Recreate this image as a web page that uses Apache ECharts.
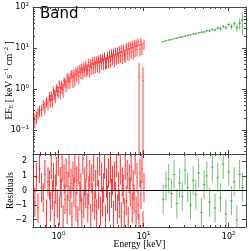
<!DOCTYPE html>
<html><head><meta charset="utf-8">
<script src="https://cdn.jsdelivr.net/npm/echarts@6/dist/echarts.min.js"></script>
<style>html,body{margin:0;padding:0;background:#fff}#c{width:249px;height:251px}</style>
</head><body><div id="c"></div>
<script>
// ---- data ----
const redE = [0.505,0.525,0.548,0.572,0.596,0.632,0.66,0.69,0.72,0.75,
0.78,0.80,0.82,0.845,0.87,0.89,0.915,0.94,0.965,0.99,
1.02,1.045,1.075,1.10,1.13,1.16,1.19,1.225,1.26,1.29,
1.325,1.36,1.40,1.435,1.475,1.515,1.555,1.60,1.64,1.685,
1.73,1.78,1.83,1.875,1.93,1.98,2.035,2.09,2.145,2.205,
2.265,2.325,2.39,2.455,2.52,2.59,2.66,2.73,2.805,2.88,
2.96,3.04,3.12,3.205,3.29,3.38,3.47,3.565,3.66,3.76,
3.865,3.97,4.075,4.185,4.30,4.415,4.535,4.66,4.785,4.915,
5.045,5.18,5.32,5.465,5.615,5.765,5.92,6.08,6.245,6.415,
6.59,6.765,6.95,7.135,7.33,7.53,7.73,7.94,8.155,8.375,
8.6,8.83,9.07,9.315,9.57,9.83,10.1];
const redF = [0.25,0.18,0.21,0.26,0.30,0.31,0.42,0.36,0.50,0.46,
0.67,0.53,0.69,0.55,0.94,0.75,0.69,1.07,0.94,0.87,
1.33,0.87,1.27,1.10,0.96,1.56,1.45,1.24,1.99,1.44,
1.93,1.50,2.22,2.41,1.62,2.44,1.76,2.76,2.14,2.98,
2.06,3.22,2.50,3.44,2.53,3.68,2.85,3.92,2.85,3.11,
4.44,2.91,4.30,3.26,4.90,3.42,4.93,3.57,5.16,3.74,
5.40,3.68,5.64,4.32,5.88,4.25,6.40,4.46,4.57,6.60,
4.79,7.20,5.01,7.56,5.58,7.94,5.20,8.34,5.80,8.40,
6.08,9.16,6.38,9.60,6.28,10.0,7.00,6.70,10.8,7.50,
11.3,7.40,11.7,8.20,12.3,8.00,12.8,8.80,13.3,9.20,
13.8,2.0,9.4,14.5,10.0,1.6,12.5];
const redErr = [0.08,0.07,0.07,0.08,0.09,0.10,0.12,0.12,0.14,0.15,
0.17,0.18,0.19,0.20,0.21,0.22,0.24,0.25,0.26,0.28,
0.29,0.31,0.32,0.34,0.35,0.37,0.39,0.41,0.43,0.45,
0.47,0.49,0.52,0.54,0.57,0.59,0.62,0.64,0.67,0.69,
0.72,0.75,0.78,0.80,0.83,0.86,0.89,0.92,0.94,0.97,
0.99,1.02,1.05,1.07,1.10,1.13,1.15,1.18,1.20,1.23,
1.26,1.29,1.32,1.34,1.37,1.40,1.43,1.47,1.51,1.54,
1.58,1.62,1.65,1.69,1.74,1.78,1.82,1.87,1.91,1.96,
2.00,2.05,2.10,2.15,2.20,2.25,2.30,2.35,2.41,2.46,
2.52,2.58,2.63,2.69,2.74,2.80,2.86,2.91,2.97,3.02,
3.08,2.3,3.19,3.25,3.30,1.8,3.42];
const redRes = [0.3,-0.8,0.9,-1.2,1.5,0.2,-0.5,1.1,-1.6,0.6,
0.4,-1.1,1.8,-0.3,0.9,-1.7,0.1,1.3,-0.9,2.0,
-1.4,0.6,-0.2,1.6,-2.0,0.8,-0.6,1.2,-1.3,0.3,
1.9,-0.7,0.5,-1.8,1.0,-0.1,1.5,-1.1,0.7,-2.1,
1.4,-0.4,0.2,-1.5,2.1,-0.9,0.6,-0.2,1.7,-1.2,
0.0,1.1,-1.9,0.8,-0.5,1.6,-1.0,0.4,-1.6,1.3,
-0.3,2.0,-1.4,0.9,-0.8,0.2,1.8,-2.0,0.5,-0.6,
1.2,-1.1,1.5,-0.2,0.7,-1.7,1.0,-0.4,1.9,-1.3,
0.3,-0.9,1.4,-1.8,0.6,0.1,-1.5,1.7,-0.7,1.1,
-2.1,0.8,-0.1,1.6,-1.2,0.4,-0.6,2.1,-1.4,0.9,
-1.0,-2.6,1.2,-0.3,1.5,-2.4,0.2];

const greenE = [17.0,18.3,19.7,21.2,22.8,24.6,26.5,28.5,30.7,33.0,
35.6,38.3,41.2,44.4,47.8,51.5,55.4,59.7,64.3,69.2,
74.5,80.2,86.4,93.0,100.2,107.9,116.2,125.1,134.7,145.0];
const greenF = [14.3,15.0,15.6,16.0,16.9,17.3,18.2,18.6,19.6,20.2,
21.0,21.9,22.3,23.5,24.2,24.6,26.3,26.0,28.4,27.6,
30.8,29.5,33.5,31.0,37.5,33.0,39.0,31.5,40.0,48.0];
const greenErr = [0.6,0.6,0.6,0.7,0.7,0.8,0.8,0.9,0.9,1.0,
1.0,1.1,1.2,1.3,1.4,1.5,1.7,1.8,2.0,2.2,
2.5,2.7,3.0,3.4,4.0,4.5,5.5,6.5,12,27];
const greenRes = [-0.6,0.3,0.8,-0.2,1.1,-0.9,0.5,-0.4,1.4,0.2,
-1.0,0.7,-0.3,1.2,-1.5,0.4,1.0,-0.8,1.6,-1.2,
0.9,-0.5,1.8,-1.6,1.3,-0.7,0.6,-2.0,1.1,0.2];

const xMinorTicks = [0.6,0.7,0.8,0.9,2,3,4,5,6,7,8,9,20,30,40,50,60,70,80,90];
const yMinorTicks = [0.03,0.04,0.05,0.06,0.07,0.08,0.09,0.2,0.3,0.4,0.5,0.6,0.7,0.8,0.9,2,3,4,5,6,7,8,9,20,30,40,50,60,70,80,90];
const X_MIN = 0.5, X_MAX = 160, Y_MIN = 0.026, Y_MAX = 100, R_MIN = -2.5, R_MAX = 2.5;
const RES_ERR = 1;

// ---- helpers ----
function binEdges(E){
  return E.map((e,i)=>{
    const prev = i>0 ? E[i-1] : e*e/E[i+1];
    const next = i<E.length-1 ? E[i+1] : e*e/E[i-1];
    return [Math.sqrt(prev*e), Math.sqrt(e*next)];
  });
}
function items(E, V, Err){
  const ed = binEdges(E);
  return E.map((e,i)=>[e, V[i], Array.isArray(Err)?Err[i]:Err, ed[i][0], ed[i][1]]);
}
function errRender(color, lo, hi){
  return function(params, api){
    const e=api.value(0), f=api.value(1), err=api.value(2), xl=api.value(3), xh=api.value(4);
    const y1=Math.max(f-err, lo), y2=Math.min(f+err, hi);
    const ch=[];
    const style={stroke:color, lineWidth:1};
    if (y2>lo && y1<hi){
      const a=api.coord([e,y1]), b=api.coord([e,y2]);
      ch.push({type:'line', shape:{x1:a[0],y1:a[1],x2:b[0],y2:b[1]}, style});
    }
    if (f>lo && f<hi){
      const c=api.coord([xl,f]), d=api.coord([xh,f]);
      ch.push({type:'line', shape:{x1:c[0],y1:c[1],x2:d[0],y2:d[1]}, style});
    }
    return {type:'group', children:ch};
  };
}
function minorRender(xs, ys, yMin, yMax){
  return function(params, api){
    const ch=[]; const st={stroke:'#444', lineWidth:1};
    xs.forEach(v=>{
      const p=api.coord([v,yMin]), q=api.coord([v,yMax]);
      const x=Math.round(p[0])+0.5;
      ch.push({type:'line', shape:{x1:x,y1:p[1],x2:x,y2:p[1]-2}, style:st});
      ch.push({type:'line', shape:{x1:x,y1:q[1],x2:x,y2:q[1]+2}, style:st});
    });
    ys.forEach(v=>{
      const p=api.coord([X_MIN,v]), q=api.coord([X_MAX,v]);
      const y=Math.round(p[1])+0.5;
      ch.push({type:'line', shape:{x1:p[0],y1:y,x2:p[0]+2,y2:y}, style:st});
      ch.push({type:'line', shape:{x1:q[0],y1:y,x2:q[0]-2,y2:y}, style:st});
    });
    return {type:'group', children:ch};
  };
}
function powFmt(v){
  const l=Math.log10(v), n=Math.round(l);
  if (Math.abs(l-n)>1e-6) return '';
  return '{b|10}{s|'+String(n).replace('-','\u2212')+'}';
}
const tickRich = {
  b:{fontSize:8, fontFamily:'DejaVu Sans', color:'#000', lineHeight:11, verticalAlign:'middle'},
  s:{fontSize:5.5, fontFamily:'DejaVu Sans', color:'#000', lineHeight:6, verticalAlign:'top'}
};
const axisCol = '#444';
function logX(grid, pos, labels){
  return {type:'log', logBase:10, gridIndex:grid, position:pos, min:X_MIN, max:X_MAX,
    axisLine:{show:true, onZero:false, lineStyle:{color:axisCol, width:1}},
    axisTick:{show:true, inside:true, length:4, lineStyle:{color:axisCol}},
    axisLabel:{show:labels, margin:4, formatter:powFmt, rich:tickRich, showMinLabel:false, showMaxLabel:false},
    splitLine:{show:false}, minorTick:{show:false}};
}

const chart = echarts.init(document.getElementById('c'), null, {renderer:'canvas'});
chart.setOption({
  animation:false,
  backgroundColor:'#fff',
  grid:[
    {left:33, top:7, width:213, height:147, containLabel:false, outerBoundsMode:'none'},
    {left:33, top:154, width:213, height:73, containLabel:false, outerBoundsMode:'none'}
  ],
  xAxis:[
    logX(0,'bottom',false),
    logX(0,'top',false),
    Object.assign(logX(1,'bottom',true), {name:'Energy [keV]', nameLocation:'middle', nameGap:12, nameMoveOverlap:false,
      nameTextStyle:{fontFamily:'Liberation Serif', fontSize:9.5, color:'#000'}}),
    logX(1,'top',false)
  ],
  yAxis:[
    {type:'log', logBase:10, gridIndex:0, position:'left', min:Y_MIN, max:Y_MAX,
     axisLine:{show:true, onZero:false, lineStyle:{color:axisCol}},
     axisTick:{show:true, inside:true, length:4, lineStyle:{color:axisCol}},
     axisLabel:{show:true, margin:4, formatter:powFmt, rich:tickRich, showMinLabel:false, showMaxLabel:true},
     splitLine:{show:false},
     name:'{n|EF}{sub|E}{n| [ keV s}{sup|\u22121}{n| cm}{sup|\u22122}{n| ]}', nameLocation:'middle', nameGap:18, nameMoveOverlap:false,
     nameTextStyle:{rich:{
       n:{fontFamily:'Liberation Serif', fontSize:9.5, color:'#000', lineHeight:12, verticalAlign:'middle'},
       sub:{fontFamily:'Liberation Serif', fontSize:6.5, color:'#000', lineHeight:7, verticalAlign:'bottom'},
       sup:{fontFamily:'Liberation Serif', fontSize:6.5, color:'#000', lineHeight:7, verticalAlign:'top'}
     }}},
    {type:'log', logBase:10, gridIndex:0, position:'right', min:Y_MIN, max:Y_MAX,
     axisLine:{show:true, onZero:false, lineStyle:{color:axisCol}},
     axisTick:{show:true, inside:true, length:4, lineStyle:{color:axisCol}},
     axisLabel:{show:false}, splitLine:{show:false}},
    {type:'value', gridIndex:1, position:'left', min:R_MIN, max:R_MAX, splitNumber:5,
     axisLine:{show:true, onZero:false, lineStyle:{color:axisCol}},
     axisTick:{show:true, inside:true, length:4, lineStyle:{color:axisCol}},
     axisLabel:{show:true, margin:6, showMinLabel:false, showMaxLabel:false,
       fontFamily:'DejaVu Sans', fontSize:8, color:'#000',
       formatter:v=>String(v).replace('-','\u2212')},
     splitLine:{show:false},
     name:'Residuals', nameLocation:'middle', nameGap:18, nameMoveOverlap:false,
     nameTextStyle:{fontFamily:'Liberation Serif', fontSize:9.5, color:'#000'}},
    {type:'value', gridIndex:1, position:'right', min:R_MIN, max:R_MAX, splitNumber:5,
     axisLine:{show:true, onZero:false, lineStyle:{color:axisCol}},
     axisTick:{show:true, inside:true, length:4, lineStyle:{color:axisCol}},
     axisLabel:{show:false}, splitLine:{show:false}}
  ],
  graphic:[{type:'text', left:40, top:7, style:{text:'Band', font:'15px "DejaVu Sans"', fill:'#000'}}],
  series:[
    {type:'custom', name:'red', xAxisIndex:0, yAxisIndex:0, silent:true, clip:true,
     renderItem:errRender('rgba(255,0,0,0.75)', Y_MIN, Y_MAX), data:items(redE, redF, redErr)},
    {type:'custom', name:'green', xAxisIndex:0, yAxisIndex:0, silent:true, clip:true,
     renderItem:errRender('rgba(0,140,0,0.6)', Y_MIN, Y_MAX), data:items(greenE, greenF, greenErr)},
    {type:'custom', name:'redRes', xAxisIndex:2, yAxisIndex:2, silent:true, clip:true,
     renderItem:errRender('rgba(255,0,0,0.8)', R_MIN, R_MAX), data:items(redE, redRes, RES_ERR)},
    {type:'custom', name:'greenRes', xAxisIndex:2, yAxisIndex:2, silent:true, clip:true,
     renderItem:errRender('rgba(0,140,0,0.55)', R_MIN, R_MAX), data:items(greenE, greenRes, RES_ERR),
     markLine:{silent:true, symbol:'none', label:{show:false}, z:10,
       lineStyle:{color:'#000', width:1, type:'solid'}, data:[{yAxis:0}]}},
    {type:'custom', name:'minor0', xAxisIndex:0, yAxisIndex:0, silent:true,
     renderItem:minorRender(xMinorTicks, yMinorTicks, Y_MIN, Y_MAX), data:[[1,1]]},
    {type:'custom', name:'minor1', xAxisIndex:2, yAxisIndex:2, silent:true,
     renderItem:minorRender(xMinorTicks, [], R_MIN, R_MAX), data:[[1,0]]}
  ]
});
</script></body></html>
